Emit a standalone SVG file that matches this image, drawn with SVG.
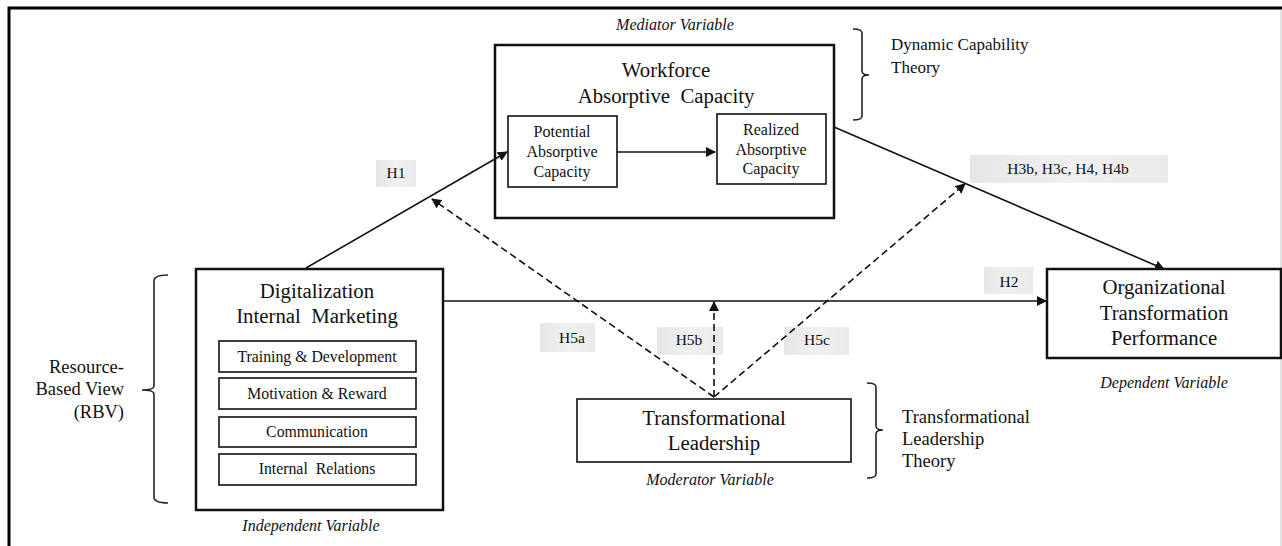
<svg xmlns="http://www.w3.org/2000/svg" width="1282" height="546" viewBox="0 0 1282 546" font-family="'Liberation Serif', 'Times New Roman', Tinos, 'DejaVu Serif', serif">
<style>
text{font-family:'Liberation Serif','Times New Roman',Tinos,'DejaVu Serif',serif;fill:#111}
.big{font-size:20.8px}
.mid{font-size:16px}
.sm{font-size:15.8px}
.lab{font-size:15.5px}
.it{font-style:italic;font-size:16px}
.side{font-size:18.5px}
.box{fill:#fff;stroke:#111;stroke-width:2.5}
.inner{fill:#fff;stroke:#111;stroke-width:1.6}
.lbl{fill:url(#lg)}
.ln{stroke:#111;stroke-width:1.6;fill:none}
.dash{stroke:#111;stroke-width:1.6;fill:none;stroke-dasharray:7,4}
.br{stroke:#222;stroke-width:1.6;fill:none}
</style>
<defs>
<linearGradient id="lg" x1="0" y1="0" x2="1" y2="0">
<stop offset="0" stop-color="#e6e6e6"/>
<stop offset="0.5" stop-color="#f0f0f0"/>
<stop offset="1" stop-color="#eaeaea"/>
</linearGradient>
<marker id="ah" viewBox="0 0 10 10" refX="9" refY="5" markerWidth="10" markerHeight="10" markerUnits="userSpaceOnUse" orient="auto">
<path d="M0,0 L10,5 L0,10 z" fill="#111"/>
</marker>
</defs>
<rect width="1282" height="546" fill="#fff"/>
<path d="M9,546 V8 H1282" fill="none" stroke="#000" stroke-width="3"/>
<line x1="1281" y1="10" x2="1281" y2="546" stroke="#d8d8d8" stroke-width="1.5"/>

<g id="labels">
<rect class="lbl" x="376" y="160" width="40" height="27"/>
<text class="lab" x="396" y="178" text-anchor="middle">H1</text>
<rect class="lbl" x="620" y="157" width="92" height="29"/>
<text class="lab" x="666" y="176" text-anchor="middle">H3a, H4a</text>
<rect class="lbl" x="970" y="155" width="198" height="28"/>
<text class="lab" x="1068" y="174" text-anchor="middle">H3b, H3c, H4, H4b</text>
<rect class="lbl" x="984" y="267" width="49" height="27"/>
<text class="lab" x="1009" y="287" text-anchor="middle">H2</text>
<rect class="lbl" x="540" y="323" width="55" height="29"/>
<text class="lab" x="572" y="343" text-anchor="middle">H5a</text>
<rect class="lbl" x="657" y="327" width="66" height="28"/>
<text class="lab" x="689" y="345" text-anchor="middle">H5b</text>
<rect class="lbl" x="784" y="327" width="65" height="28"/>
<text class="lab" x="817" y="345" text-anchor="middle">H5c</text>
</g>

<g id="mediator">
<text class="it" x="675" y="30" text-anchor="middle">Mediator Variable</text>
<rect class="box" x="495" y="45" width="339" height="173"/>
<text class="big" x="666" y="77" text-anchor="middle">Workforce</text>
<text class="big" x="666" y="103" text-anchor="middle" xml:space="preserve">Absorptive  Capacity</text>
</g>
<g id="potential">
<rect class="inner" x="508" y="116" width="109" height="71"/>
<text class="mid" x="562" y="137" text-anchor="middle">Potential</text>
<text class="mid" x="562" y="157" text-anchor="middle">Absorptive</text>
<text class="mid" x="562" y="177" text-anchor="middle">Capacity</text>
</g>
<g id="realized">
<rect class="inner" x="717" y="114" width="109" height="70"/>
<text class="mid" x="771" y="135" text-anchor="middle">Realized</text>
<text class="mid" x="771" y="155" text-anchor="middle">Absorptive</text>
<text class="mid" x="771" y="174" text-anchor="middle">Capacity</text>
</g>
<g id="dynamic-capability-theory">
<path class="br" d="M853,29 Q862,29 862,33 V71 Q862,75 869,75 Q862,75 862,79 V116 Q862,120 853,120"/>
<text x="891" y="50" style="font-size:17px">Dynamic Capability</text>
<text x="891" y="73" style="font-size:17px">Theory</text>
</g>

<g id="digitalization">
<rect class="box" x="196" y="269" width="247" height="241"/>
<text class="big" x="317" y="298" text-anchor="middle">Digitalization</text>
<text class="big" x="317" y="323" text-anchor="middle" xml:space="preserve">Internal  Marketing</text>
<rect class="inner" x="219" y="341" width="197" height="31"/>
<text class="sm" x="317" y="362" text-anchor="middle">Training &amp; Development</text>
<rect class="inner" x="219" y="378" width="197" height="31"/>
<text class="sm" x="317" y="399" text-anchor="middle">Motivation &amp; Reward</text>
<rect class="inner" x="219" y="417" width="197" height="30"/>
<text class="sm" x="317" y="437" text-anchor="middle">Communication</text>
<rect class="inner" x="219" y="454" width="197" height="31"/>
<text class="sm" x="317" y="474" text-anchor="middle" xml:space="preserve">Internal  Relations</text>
<text class="it" x="311" y="531" text-anchor="middle">Independent Variable</text>
</g>
<g id="rbv">
<path class="br" d="M168,275 Q154,275 154,281 V386 Q154,390 142,390 Q154,390 154,394 V497 Q154,503 168,503"/>
<text class="side" x="124" y="373" text-anchor="end">Resource-</text>
<text class="side" x="124" y="395" text-anchor="end">Based View</text>
<text class="side" x="124" y="418" text-anchor="end">(RBV)</text>
</g>

<g id="outcome">
<rect class="box" x="1047" y="269" width="234" height="89"/>
<text class="big" x="1164" y="294" text-anchor="middle">Organizational</text>
<text class="big" x="1164" y="320" text-anchor="middle">Transformation</text>
<text class="big" x="1164" y="345" text-anchor="middle">Performance</text>
<text class="it" x="1164" y="388" text-anchor="middle">Dependent Variable</text>
</g>

<g id="moderator">
<rect class="inner" x="577" y="399" width="274" height="63"/>
<text class="big" x="714" y="425" text-anchor="middle">Transformational</text>
<text class="big" x="714" y="450" text-anchor="middle">Leadership</text>
<text class="it" x="710" y="485" text-anchor="middle">Moderator Variable</text>
</g>
<g id="tl-theory">
<path class="br" d="M867,383 Q876,383 876,387 V426 Q876,430 883,430 Q876,430 876,434 V474 Q876,478 867,478"/>
<text class="side" x="902" y="423">Transformational</text>
<text class="side" x="902" y="445">Leadership</text>
<text class="side" x="902" y="467">Theory</text>
</g>

<g id="connectors">
<line class="ln" x1="306" y1="268" x2="507" y2="152" marker-end="url(#ah)"/>
<line class="ln" x1="617" y1="152" x2="715" y2="152" marker-end="url(#ah)"/>
<line class="ln" x1="834" y1="127" x2="1164" y2="269" marker-end="url(#ah)"/>
<line class="ln" x1="443" y1="301" x2="1046" y2="301" marker-end="url(#ah)"/>
<line class="dash" x1="714" y1="397" x2="432" y2="199" marker-end="url(#ah)"/>
<line class="dash" x1="714" y1="397" x2="714" y2="302" marker-end="url(#ah)"/>
<line class="dash" x1="714" y1="397" x2="965" y2="184" marker-end="url(#ah)"/>
</g>
</svg>
